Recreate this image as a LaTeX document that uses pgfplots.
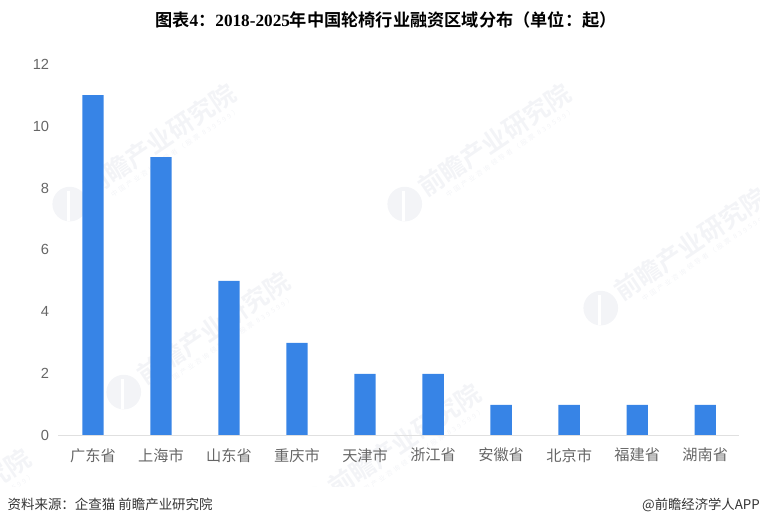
\documentclass[border=0pt]{standalone}
\usepackage{fontspec}
\usepackage{pgfplots}
\pgfplotsset{compat=1.18}
\newfontfamily\cjk{Noto Sans CJK SC}
\newfontfamily\cjkb{Noto Sans CJK SC Bold}
\newfontfamily\cjksp[LetterSpace=35]{Noto Sans CJK SC}
\newfontfamily\serb{Liberation Serif Bold}
\setmainfont{Liberation Sans}
\definecolor{barblue}{HTML}{3784E6}
\definecolor{ticktxt}{HTML}{666666}
\definecolor{wm}{HTML}{F3F4F7}
\newcommand{\wmark}[2]{%
\begin{scope}[shift={(#1*0.75pt,{(526-#2)*0.75pt})},rotate=34]
\node[text=wm,font=\cjkb\fontsize{19}{19}\selectfont,transform shape] at (0,0) {前瞻产业研究院};
\node[text=wm,font=\cjksp\fontsize{5}{6}\selectfont,transform shape] at (4pt,-14pt) {中国产业咨询领导者（股票 839599）};
\fill[wm] (-83pt,-2pt) circle (13pt);
\fill[white,rotate around={-34:(-83pt,-2pt)}] (-85pt,-15pt) rectangle (-82.5pt,8pt);
\end{scope}}
\begin{document}
\begin{tikzpicture}[x=1pt,y=1pt]
\useasboundingbox (0,0) rectangle (570pt,394.5pt);
\wmark{160}{140}
\wmark{495}{140}
\wmark{691}{244}
\wmark{214}{328}
\begin{scope}
\clip (0,30pt) rectangle (570pt,394.5pt);
\wmark{405}{440}
\wmark{-45}{505}
\end{scope}
\begin{axis}[
  at={(43.5pt,67.7pt)},anchor=south west,
  scale only axis,width=510.4pt,height=278.7pt,
  xmin=-0.514,xmax=9.49,ymin=0,ymax=12,
  ytick={0,2,...,12},xtick=data,
  xticklabels={广东省,上海市,山东省,重庆市,天津市,浙江省,安徽省,北京市,福建省,湖南省},
  axis x line=bottom,axis y line=left,
  x axis line style={draw=none},y axis line style={draw=none},
  tick style={draw=none},
  ticklabel style={text=ticktxt},
  xticklabel style={font=\cjk\fontsize{11.4}{12}\selectfont,yshift=-1.5pt},
  yticklabel style={font=\fontsize{11}{12}\selectfont,xshift=-1pt},
  /pgf/number format/assume math mode=true,
  clip=false,
  ybar,bar width=16pt,
]
\addplot[fill=barblue,draw=none] coordinates {(0,11)(1,9)(2,5)(3,3)(4,2)(5,2)(6,1)(7,1)(8,1)(9,1)};
\end{axis}
\draw[color=black!12,line width=1pt] (43.5pt,67.7pt) -- (553.9pt,67.7pt);
\node[font=\cjkb\fontsize{12.9}{13}\selectfont,anchor=center] at (289.5pt,379.5pt) {图表{\serb 4}：{\serb 2018-2025}年中国轮椅行业融资区域分布（单位：起）};
\node[font=\cjk\fontsize{10.1}{11}\selectfont,anchor=west,text=black!80,inner sep=0pt] at (5.5pt,16pt) {资料来源：企查猫\ 前瞻产业研究院};
\node[font=\cjk\fontsize{10}{11}\selectfont,anchor=east,text=black!80,inner sep=0pt] at (570pt,16pt) {@前瞻经济学人APP};
\end{tikzpicture}
\end{document}
